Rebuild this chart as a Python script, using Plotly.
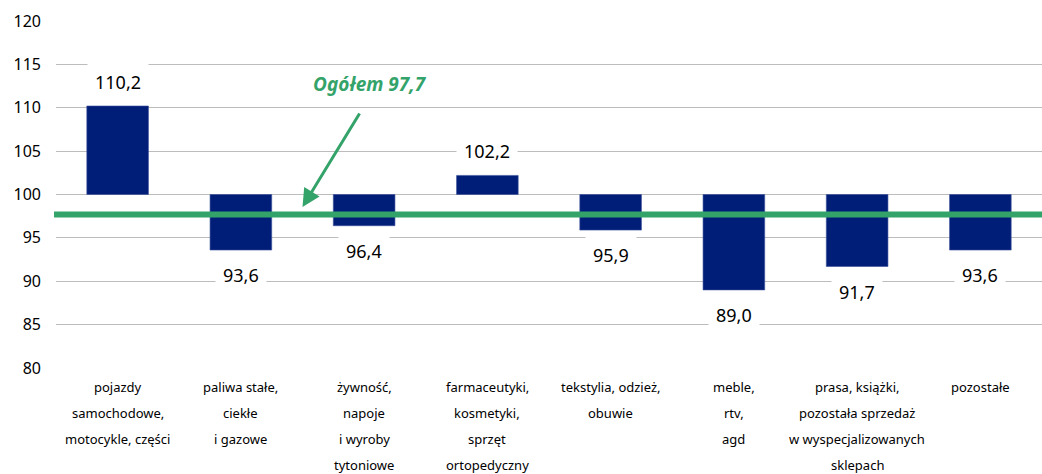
import plotly.graph_objects as go

categories = [
    "pojazdy<br>samochodowe,<br>motocykle, części",
    "paliwa stałe,<br>ciekłe<br>i gazowe",
    "żywność,<br>napoje<br>i wyroby<br>tytoniowe",
    "farmaceutyki,<br>kosmetyki,<br>sprzęt<br>ortopedyczny",
    "tekstylia, odzież,<br>obuwie",
    "meble,<br>rtv,<br>agd",
    "prasa, książki,<br>pozostała sprzedaż<br>w wyspecjalizowanych<br>sklepach",
    "pozostałe",
]
values = [110.2, 93.6, 96.4, 102.2, 95.9, 89.0, 91.7, 93.6]
value_labels = ["110,2", "93,6", "96,4", "102,2", "95,9", "89,0", "91,7", "93,6"]
base_value = 100
total_value = 97.7
total_label = "Ogółem 97,7"
y_ticks = [80, 85, 90, 95, 100, 105, 110, 115, 120]

NAVY = "#001E78"
GREEN = "#34A36A"
FONT = "Noto Sans"

fig = go.Figure()
fig.add_trace(go.Bar(
    x=categories,
    y=[v - base_value for v in values],
    base=base_value,
    width=0.5,
    marker=dict(color=NAVY, line=dict(color="#3a4f9a", width=0.6)),
    hoverinfo="skip",
    showlegend=False,
))

annotations = []
# value labels
for cat, v, lab in zip(categories, values, value_labels):
    up = v >= base_value
    annotations.append(dict(
        x=cat, y=v, xref="x", yref="y",
        text=lab, showarrow=False,
        yanchor="middle", yshift=24 if up else -25,
        font=dict(family=FONT, size=18, color="#000000"),
        bgcolor="white", borderpad=7,
    ))

# category labels (line spacing as in reference)
for cat in categories:
    for i, line in enumerate(cat.split("<br>")):
        annotations.append(dict(
            x=cat, y=0, xref="x", yref="paper",
            text=line, showarrow=False,
            yanchor="middle", yshift=-(19 + 26 * i),
            font=dict(family=FONT, size=13, color="#000000"),
        ))

# total label and arrow
annotations.append(dict(
    x=2.05, y=112.7, xref="x", yref="y",
    text="<b><i>" + total_label + "</i></b>", showarrow=False,
    font=dict(family=FONT, size=19, color=GREEN),
))
annotations.append(dict(
    x=1.5, y=98.55, xref="x", yref="y",
    text="", showarrow=True, ax=58, ay=-95,
    arrowhead=2, arrowsize=1.2, arrowwidth=3, arrowcolor=GREEN,
    standoff=0,
))

fig.update_layout(
    width=1042, height=474,
    margin=dict(l=56, r=0, t=21, b=106),
    paper_bgcolor="white", plot_bgcolor="white",
    bargap=0.5,
    annotations=annotations,
    shapes=[dict(
        type="line", xref="paper", yref="y",
        x0=-0.002, x1=1, y0=total_value, y1=total_value,
        line=dict(color=GREEN, width=6), layer="above",
    )],
    font=dict(family=FONT),
)
fig.update_xaxes(showticklabels=False, showgrid=False, zeroline=False,
                 showline=False, ticks="", range=[-0.5, 7.5])
fig.update_yaxes(range=[80, 120], tickvals=y_ticks, ticktext=[str(t) for t in y_ticks],
                 showgrid=True, gridcolor="#bcbcbc", gridwidth=1,
                 zeroline=False, showline=False, ticks="",
                 ticklabelstandoff=14,
                 tickfont=dict(family=FONT, size=16, color="#000000"))

fig.write_html("out.html", config={"displayModeBar": False},
               post_script="document.body.style.margin='0';document.body.style.overflow='hidden';")
